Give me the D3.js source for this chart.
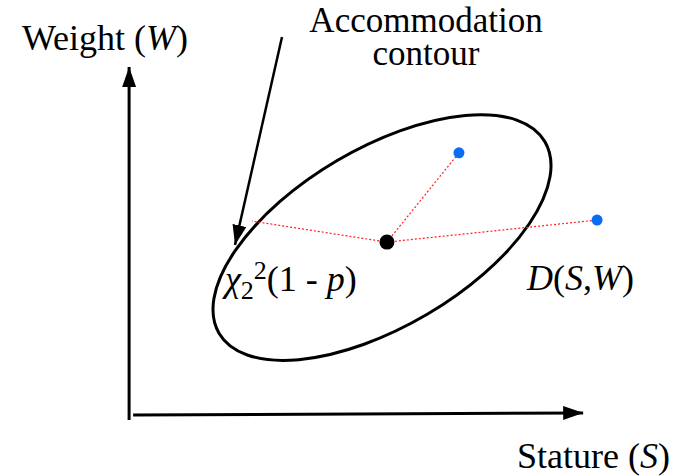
<!DOCTYPE html>
<html>
<head>
<meta charset="utf-8">
<script src="https://cdn.jsdelivr.net/npm/d3@7"></script>
<style>
  body { margin: 0; background: #fff; }
</style>
</head>
<body>
<svg id="chart"></svg>
<script>
// diagram values in arbitrary stature / weight units
const meanPoint = [57.1, 49.4];
const subjects = [[73.1, 74.9], [103.8, 55.7]];
const contourEdge = [27.1, 55.4];
// contour ellipse: centre, semi axes (units of x), tilt in degrees
const ellipseCenter = [56.0, 50.7];
const ellipseAxes = [42.0, 19.8];
const ellipseTilt = -30.5;
const axisLabels = ["Stature", "Weight"];
const contourLabel = ["Accommodation", "contour"];

const width = 677, height = 476;
const svg = d3.select("#chart").attr("width", width).attr("height", height);

const x = d3.scaleLinear().domain([0, 100]).range([130, 580]);
const y = d3.scaleLinear().domain([0, 100]).range([415, 65]);

const defs = svg.append("defs");
defs.append("marker")
    .attr("id", "head")
    .attr("viewBox", "0 0 20 14")
    .attr("refX", 20).attr("refY", 7)
    .attr("markerWidth", 20).attr("markerHeight", 14)
    .attr("markerUnits", "userSpaceOnUse")
    .attr("orient", "auto")
    .append("path")
    .attr("d", "M0,0L20,7L0,14Z")
    .attr("fill", "#000");

// axes
svg.append("line")
    .attr("x1", x(-0.2)).attr("y1", y(-1.4))
    .attr("x2", x(-0.2)).attr("y2", y(99.4))
    .attr("stroke", "#000").attr("stroke-width", 3)
    .attr("marker-end", "url(#head)");

svg.append("line")
    .attr("x1", x(0.7)).attr("y1", y(0))
    .attr("x2", x(100.7)).attr("y2", y(0.6))
    .attr("stroke", "#000").attr("stroke-width", 3)
    .attr("marker-end", "url(#head)");

// contour ellipse
const pxPerUnit = x(1) - x(0);
svg.append("ellipse")
    .attr("cx", 0).attr("cy", 0)
    .attr("rx", ellipseAxes[0] * pxPerUnit)
    .attr("ry", ellipseAxes[1] * pxPerUnit)
    .attr("transform", `translate(${x(ellipseCenter[0])},${y(ellipseCenter[1])}) rotate(${ellipseTilt})`)
    .attr("fill", "none")
    .attr("stroke", "#000")
    .attr("stroke-width", 3);

// distance lines
const ends = [contourEdge, ...subjects];
svg.append("g")
    .selectAll("line")
    .data(ends)
    .join("line")
    .attr("x1", x(meanPoint[0])).attr("y1", y(meanPoint[1]))
    .attr("x2", d => x(d[0])).attr("y2", d => y(d[1]))
    .attr("stroke", "#ff2020")
    .attr("stroke-width", 1.2)
    .attr("stroke-dasharray", "2,2");

svg.append("g")
    .selectAll("circle")
    .data(subjects)
    .join("circle")
    .attr("cx", d => x(d[0])).attr("cy", d => y(d[1]))
    .attr("r", 5.5)
    .attr("fill", "#0a6cf5");

svg.append("circle")
    .attr("cx", x(meanPoint[0])).attr("cy", y(meanPoint[1]))
    .attr("r", 7.5)
    .attr("fill", "#000");

// pointer from label to contour
svg.append("line")
    .attr("x1", 282).attr("y1", 37)
    .attr("x2", 235).attr("y2", 245)
    .attr("stroke", "#000").attr("stroke-width", 2.5)
    .attr("marker-end", "url(#head)");

// labels
const fs = 36;
function label(xp, yp, anchor) {
    return svg.append("text").attr("x", xp).attr("y", yp)
        .attr("font-size", fs)
        .style("font-family", "'Liberation Serif', 'Times New Roman', serif")
        .attr("text-anchor", anchor || "start");
}

const w = label(22, 50);
w.append("tspan").text(axisLabels[1] + " (");
w.append("tspan").attr("font-style", "italic").text("W");
w.append("tspan").text(")");

const s = label(670, 468, "end");
s.append("tspan").text(axisLabels[0] + " (");
s.append("tspan").attr("font-style", "italic").text("S");
s.append("tspan").text(")");

label(426, 32, "middle").attr("font-size", 35).text(contourLabel[0]);
label(426, 65, "middle").attr("font-size", 35).text(contourLabel[1]);

const c = label(225, 291);
c.append("tspan").attr("font-style", "italic").text("χ");
c.append("tspan").attr("font-size", 26).attr("dy", 8).text("2");
c.append("tspan").attr("font-size", 26).attr("dy", -20).text("2");
c.append("tspan").attr("dy", 12).text("(1 - ");
c.append("tspan").attr("font-style", "italic").text("p");
c.append("tspan").text(")");

const dl = label(527, 290);
dl.append("tspan").attr("font-style", "italic").text("D");
dl.append("tspan").text("(");
dl.append("tspan").attr("font-style", "italic").text("S");
dl.append("tspan").text(",");
dl.append("tspan").attr("font-style", "italic").text("W");
dl.append("tspan").text(")");
</script>
</body>
</html>
